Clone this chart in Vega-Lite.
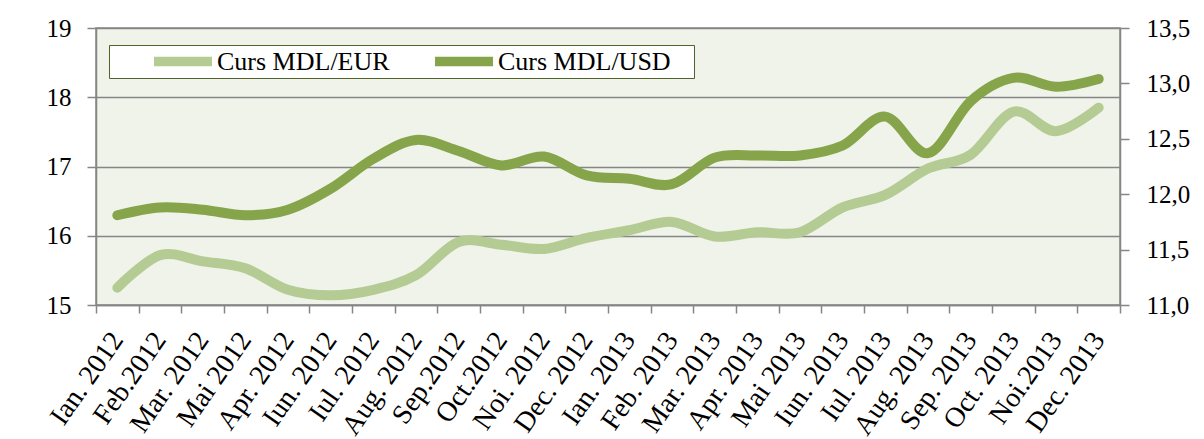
{
  "$schema": "https://vega.github.io/schema/vega-lite/v6.json",
  "width": 1024,
  "height": 277,
  "autosize": {"type": "none"},
  "padding": {"left": 96, "top": 28, "right": 84, "bottom": 134},
  "background": "white",
  "data": {
    "values": [
      {"month": "Ian. 2012", "series": "Curs MDL/EUR", "value": 15.25},
      {"month": "Feb.2012", "series": "Curs MDL/EUR", "value": 15.72},
      {"month": "Mar. 2012", "series": "Curs MDL/EUR", "value": 15.63},
      {"month": "Mai 2012", "series": "Curs MDL/EUR", "value": 15.53},
      {"month": "Apr. 2012", "series": "Curs MDL/EUR", "value": 15.22},
      {"month": "Iun. 2012", "series": "Curs MDL/EUR", "value": 15.14},
      {"month": "Iul. 2012", "series": "Curs MDL/EUR", "value": 15.22},
      {"month": "Aug. 2012", "series": "Curs MDL/EUR", "value": 15.43},
      {"month": "Sep.2012", "series": "Curs MDL/EUR", "value": 15.91},
      {"month": "Oct.2012", "series": "Curs MDL/EUR", "value": 15.87},
      {"month": "Noi. 2012", "series": "Curs MDL/EUR", "value": 15.81},
      {"month": "Dec. 2012", "series": "Curs MDL/EUR", "value": 15.97},
      {"month": "Ian. 2013", "series": "Curs MDL/EUR", "value": 16.08},
      {"month": "Feb. 2013", "series": "Curs MDL/EUR", "value": 16.2},
      {"month": "Mar. 2013", "series": "Curs MDL/EUR", "value": 15.99},
      {"month": "Apr. 2013", "series": "Curs MDL/EUR", "value": 16.05},
      {"month": "Mai 2013", "series": "Curs MDL/EUR", "value": 16.05},
      {"month": "Iun. 2013", "series": "Curs MDL/EUR", "value": 16.41},
      {"month": "Iul. 2013", "series": "Curs MDL/EUR", "value": 16.59},
      {"month": "Aug. 2013", "series": "Curs MDL/EUR", "value": 16.97},
      {"month": "Sep. 2013", "series": "Curs MDL/EUR", "value": 17.17},
      {"month": "Oct. 2013", "series": "Curs MDL/EUR", "value": 17.79},
      {"month": "Noi.2013", "series": "Curs MDL/EUR", "value": 17.51},
      {"month": "Dec. 2013", "series": "Curs MDL/EUR", "value": 17.85},
      {"month": "Ian. 2012", "series": "Curs MDL/USD", "value": 11.81},
      {"month": "Feb.2012", "series": "Curs MDL/USD", "value": 11.88},
      {"month": "Mar. 2012", "series": "Curs MDL/USD", "value": 11.86},
      {"month": "Mai 2012", "series": "Curs MDL/USD", "value": 11.81},
      {"month": "Apr. 2012", "series": "Curs MDL/USD", "value": 11.86},
      {"month": "Iun. 2012", "series": "Curs MDL/USD", "value": 12.05},
      {"month": "Iul. 2012", "series": "Curs MDL/USD", "value": 12.32},
      {"month": "Aug. 2012", "series": "Curs MDL/USD", "value": 12.49},
      {"month": "Sep.2012", "series": "Curs MDL/USD", "value": 12.39},
      {"month": "Oct.2012", "series": "Curs MDL/USD", "value": 12.26},
      {"month": "Noi. 2012", "series": "Curs MDL/USD", "value": 12.34},
      {"month": "Dec. 2012", "series": "Curs MDL/USD", "value": 12.17},
      {"month": "Ian. 2013", "series": "Curs MDL/USD", "value": 12.14},
      {"month": "Feb. 2013", "series": "Curs MDL/USD", "value": 12.09},
      {"month": "Mar. 2013", "series": "Curs MDL/USD", "value": 12.33},
      {"month": "Apr. 2013", "series": "Curs MDL/USD", "value": 12.35},
      {"month": "Mai 2013", "series": "Curs MDL/USD", "value": 12.35},
      {"month": "Iun. 2013", "series": "Curs MDL/USD", "value": 12.44},
      {"month": "Iul. 2013", "series": "Curs MDL/USD", "value": 12.7},
      {"month": "Aug. 2013", "series": "Curs MDL/USD", "value": 12.37},
      {"month": "Sep. 2013", "series": "Curs MDL/USD", "value": 12.84},
      {"month": "Oct. 2013", "series": "Curs MDL/USD", "value": 13.05},
      {"month": "Noi.2013", "series": "Curs MDL/USD", "value": 12.97},
      {"month": "Dec. 2013", "series": "Curs MDL/USD", "value": 13.04}
    ]
  },
  "encoding": {
    "x": {
      "field": "month",
      "type": "nominal",
      "sort": null,
      "bandPosition": 0.5,
      "scale": {
        "type": "band",
        "paddingInner": 0,
        "paddingOuter": 0,
        "domain": ["Ian. 2012", "Feb.2012", "Mar. 2012", "Mai 2012", "Apr. 2012", "Iun. 2012", "Iul. 2012", "Aug. 2012", "Sep.2012", "Oct.2012", "Noi. 2012", "Dec. 2012", "Ian. 2013", "Feb. 2013", "Mar. 2013", "Apr. 2013", "Mai 2013", "Iun. 2013", "Iul. 2013", "Aug. 2013", "Sep. 2013", "Oct. 2013", "Noi.2013", "Dec. 2013"]
      },
      "axis": {
        "title": null,
        "labelAngle": -55,
        "labelAlign": "right",
        "labelBaseline": "middle",
        "labelFont": "Liberation Serif",
        "labelFontSize": 28,
        "labelColor": "black",
        "labelPadding": 22,
        "labelOverlap": false,
        "labelBound": false,
        "labelLimit": 0,
        "tickBand": "extent",
        "tickSize": 8,
        "tickColor": "#868686",
        "tickWidth": 1.5,
        "domainColor": "#868686",
        "domainWidth": 1.5,
        "grid": false
      }
    },
    "color": {
      "field": "series",
      "type": "nominal",
      "scale": {"domain": ["Curs MDL/EUR", "Curs MDL/USD"], "range": ["#b4cc93", "#86a44a"]},
      "legend": {
        "title": "\u00a0",
        "titleOrient": "left",
        "titleAngle": 0,
        "titleFontSize": 1,
        "titlePadding": 37,
        "orient": "none",
        "legendX": 13,
        "legendY": 17,
        "direction": "horizontal",
        "columns": 2,
        "symbolType": "stroke",
        "symbolSize": 3364,
        "symbolStrokeWidth": 9.5,
        "clipHeight": 27,
        "labelFont": "Liberation Serif",
        "labelFontSize": 26,
        "labelColor": "black",
        "labelOffset": 0,
        "labelLimit": 0,
        "labelExpr": "datum.label === 'Curs MDL/USD' ? datum.label + '\u00a0\u00a0\u00a0\u200b' : datum.label",
        "columnPadding": 40,
        "padding": 3,
        "fillColor": "white",
        "strokeColor": "#4f6228"
      }
    }
  },
  "layer": [
    {
      "transform": [{"filter": "datum.series === 'Curs MDL/EUR'"}],
      "mark": {"type": "line", "interpolate": "cardinal", "strokeWidth": 10, "strokeCap": "round", "strokeJoin": "round"},
      "encoding": {
        "y": {
          "field": "value",
          "type": "quantitative",
          "scale": {"domain": [15, 19], "zero": false, "nice": false},
          "axis": {
            "orient": "left",
            "title": null,
            "values": [15, 16, 17, 18, 19],
            "grid": true,
            "gridColor": "#868686",
            "gridWidth": 1.5,
            "tickSize": 9,
            "tickColor": "#868686",
            "tickWidth": 1.5,
            "domainColor": "#868686",
            "domainWidth": 1.5,
            "labelPadding": 16,
            "labelFont": "Liberation Serif",
            "labelFontSize": 25,
            "labelColor": "black"
          }
        }
      }
    },
    {
      "transform": [{"filter": "datum.series === 'Curs MDL/USD'"}],
      "mark": {"type": "line", "interpolate": "cardinal", "strokeWidth": 10, "strokeCap": "round", "strokeJoin": "round"},
      "encoding": {
        "y": {
          "field": "value",
          "type": "quantitative",
          "scale": {"domain": [11, 13.5], "zero": false, "nice": false},
          "axis": {
            "orient": "right",
            "title": null,
            "values": [11, 11.5, 12, 12.5, 13, 13.5],
            "labelExpr": "replace(format(datum.value, '.1f'), '.', ',')",
            "grid": false,
            "tickSize": 9,
            "tickColor": "#868686",
            "tickWidth": 1.5,
            "domainColor": "#868686",
            "domainWidth": 1.5,
            "labelPadding": 17,
            "labelFont": "Liberation Serif",
            "labelFontSize": 25,
            "labelColor": "black"
          }
        }
      }
    }
  ],
  "resolve": {"scale": {"y": "independent"}},
  "config": {
    "font": "Liberation Serif",
    "view": {"fill": "#eff3ea", "stroke": "#868686", "strokeWidth": 1.5}
  }
}
